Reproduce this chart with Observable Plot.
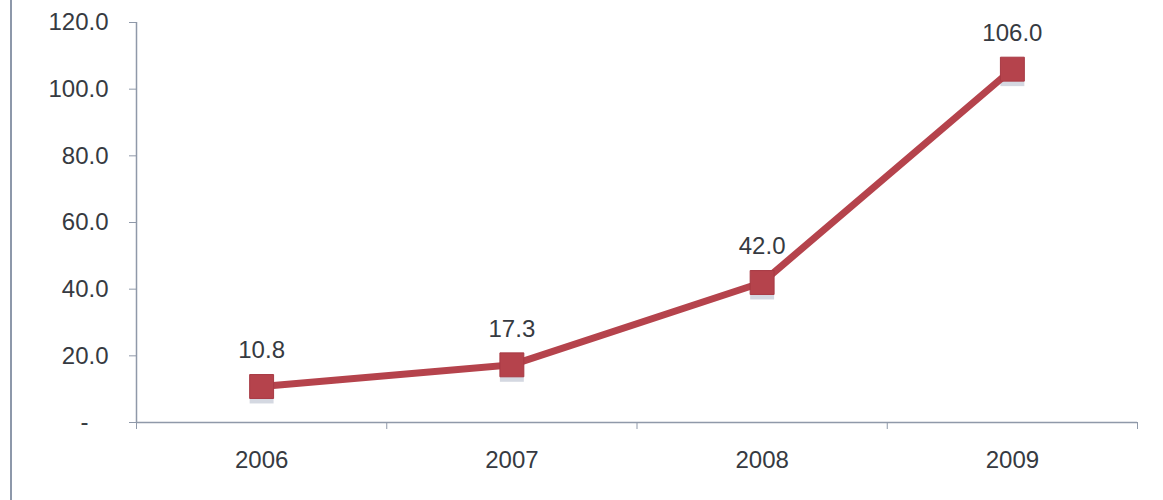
<!DOCTYPE html>
<html>
<head>
<meta charset="utf-8">
<script src="https://cdn.jsdelivr.net/npm/d3@7"></script>
<script src="https://cdn.jsdelivr.net/npm/@observablehq/plot@0.6"></script>
<style>
  html, body { margin: 0; padding: 0; background: #fff; }
  #wrap { position: relative; width: 1163px; height: 500px; }
  #edge { position: absolute; left: 10px; top: 0; width: 2px; height: 500px; background: #8d98aa; }
  #chart { position: absolute; left: 0; top: 0; }
  svg [aria-label="y-axis tick"], svg [aria-label="x-axis tick"] { stroke: #8f99a9; }
  svg .tick line { stroke: #8f99a9; }
</style>
</head>
<body>
<div id="wrap"><div id="edge"></div><div id="chart"></div></div>
<script>
const years = [2006, 2007, 2008, 2009];
const values = [10.8, 17.3, 42.0, 106.0];
const yTicks = [0, 20, 40, 60, 80, 100, 120];

const data = years.map((year, i) => ({year, value: values[i]}));
const bounds = [...years.map(y => y - 0.5), years[years.length - 1] + 0.5];

const lineColor = "#b5434c";
const axisColor = "#8f99a9";
const textColor = "#363a41";
const font = "'Liberation Sans', Arial, sans-serif";

const chart = Plot.plot({
  width: 1163,
  height: 500,
  marginLeft: 136,
  marginRight: 26,
  marginTop: 22,
  marginBottom: 78,
  style: {fontFamily: font, fontSize: "24px", color: textColor, background: "transparent"},
  x: {
    type: "linear",
    domain: [bounds[0], bounds[bounds.length - 1]],
    ticks: bounds,
    tickSize: 7,
    tickFormat: () => "",
    label: null
  },
  y: {
    domain: [0, 120],
    ticks: yTicks,
    tickSize: 7,
    tickPadding: 21,
    tickFormat: d => d === 0 ? "-\u00a0\u00a0\u00a0" : d.toFixed(1),
    label: null
  },
  marks: [
    Plot.ruleY([0], {x1: bounds[0], x2: bounds[bounds.length - 1], stroke: axisColor, strokeWidth: 1.5}),
    Plot.ruleX([bounds[0]], {y1: 0, y2: 120, stroke: axisColor, strokeWidth: 1.5}),
    Plot.text(years, {x: d => d, y: 0, text: d => String(d), dy: 38, fontSize: 24, fill: textColor}),
    Plot.dot(data, {x: "year", y: "value", symbol: "square", r: 13.5, fill: "#9fa8bd", fillOpacity: 0.45, dy: 5}),
    Plot.line(data, {x: "year", y: "value", stroke: lineColor, strokeWidth: 7}),
    Plot.dot(data, {x: "year", y: "value", symbol: "square", r: 13.5, fill: lineColor, stroke: "#a83a44", strokeWidth: 1}),
    Plot.text(data, {x: "year", y: "value", text: d => d.value.toFixed(1), dy: -36, fontSize: 24, fill: textColor})
  ]
});
document.getElementById("chart").appendChild(chart);
</script>
</body>
</html>
